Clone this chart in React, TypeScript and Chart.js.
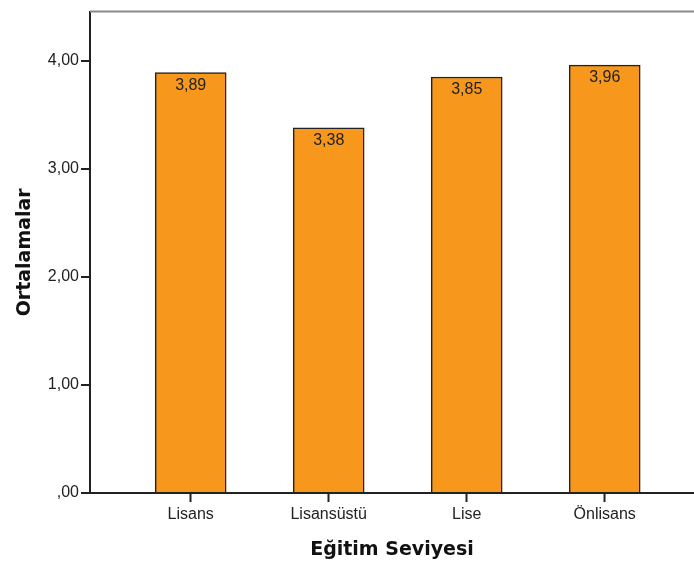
import React, { useEffect, useRef } from "react";
import { Chart, registerables } from "chart.js";

Chart.register(...registerables);

const categories = ["Lisans", "Lisansüstü", "Lise", "Önlisans"];
const means = [3.89, 3.38, 3.85, 3.96];
const yTicks = [0, 1, 2, 3, 4];

const fmt = (v: number) => (v === 0 ? ",00" : v.toFixed(2).replace(".", ","));

const barLabels = {
  id: "barLabels",
  afterDatasetsDraw(chart: any) {
    const ctx = chart.ctx;
    const meta = chart.getDatasetMeta(0);
    ctx.save();
    ctx.font = "16px 'Liberation Sans', Arial, sans-serif";
    ctx.fillStyle = "#222";
    ctx.textAlign = "center";
    ctx.textBaseline = "middle";
    meta.data.forEach((el: any, i: number) => {
      ctx.fillText(fmt(means[i]), el.x, el.y + 13);
    });
    ctx.restore();
  },
};

const topBorder = {
  id: "topBorder",
  afterDraw(chart: any) {
    const { ctx, chartArea } = chart;
    ctx.save();
    ctx.strokeStyle = "#8a8a8a";
    ctx.lineWidth = 2;
    ctx.beginPath();
    ctx.moveTo(chartArea.left, chartArea.top);
    ctx.lineTo(chartArea.right, chartArea.top);
    ctx.stroke();
    ctx.restore();
  },
};

export default function App() {
  const ref = useRef<HTMLCanvasElement | null>(null);
  useEffect(() => {
    if (!ref.current) return;
    const chart = new Chart(ref.current, {
      type: "bar",
      data: {
        datasets: [
          {
            data: means.map((v, i) => ({ x: i, y: v })),
            backgroundColor: "#F7981D",
            borderColor: "#222",
            borderWidth: 1.5,
            barThickness: 71,
          },
        ],
      },
      options: {
        animation: false,
        responsive: false,
        maintainAspectRatio: false,
        layout: { padding: { top: 10.5, right: 0, bottom: 0, left: 0 } },
        plugins: { legend: { display: false }, tooltip: { enabled: false } },
        scales: {
          x: {
            type: "linear",
            offset: false,
            min: -0.7297,
            max: 3.647,
            afterBuildTicks: (s: any) => {
              s.ticks = categories.map((_, i) => ({ value: i }));
            },
            afterFit: (s: any) => {
              s.height = 72;
            },
            grid: {
              offset: false,
              drawOnChartArea: false,
              drawTicks: true,
              tickLength: 9,
              tickWidth: 2,
              tickColor: "#222",
            },
            border: { display: false },
            ticks: {
              autoSkip: false,
              maxRotation: 0,
              padding: 3,
              color: "#222",
              font: { family: "'Liberation Sans', Arial, sans-serif", size: 16 },
              callback: (v: any) => categories[Math.round(Number(v))] ?? "",
            },
            title: {
              display: true,
              text: "Eğitim Seviyesi",
              color: "#111",
              font: { family: "'DejaVu Sans', sans-serif", size: 19, weight: "bold" },
              padding: { top: 0, bottom: 4 },
            },
          },
          y: {
            type: "linear",
            min: 0,
            max: 4.455,
            afterBuildTicks: (s: any) => {
              s.ticks = yTicks.map((v) => ({ value: v }));
            },
            afterFit: (s: any) => {
              s.width = 90;
            },
            grid: {
              drawOnChartArea: true,
              drawTicks: true,
              lineWidth: 2,
              color: (c: any) => (c.tick && c.tick.value === 0 ? "#222" : "rgba(0,0,0,0)"),
              tickLength: 9,
              tickWidth: 2,
              tickColor: "#222",
            },
            border: { display: true, color: "#222", width: 2 },
            ticks: {
              padding: 2,
              color: "#222",
              font: { family: "'Liberation Sans', Arial, sans-serif", size: 16 },
              callback: (v: any) => fmt(Number(v)),
            },
            title: {
              display: true,
              text: "Ortalamalar",
              color: "#111",
              font: { family: "'DejaVu Sans', sans-serif", size: 19, weight: "bold" },
              padding: { top: 14, bottom: 0 },
            },
          },
        },
      },
      plugins: [barLabels, topBorder],
    } as any);
    return () => chart.destroy();
  }, []);

  return (
    <div style={{ position: "fixed", left: 0, top: 0, width: 694, height: 565, background: "#fff" }}>
      <canvas ref={ref} width={694} height={565} style={{ width: 694, height: 565, display: "block" }} />
    </div>
  );
}
